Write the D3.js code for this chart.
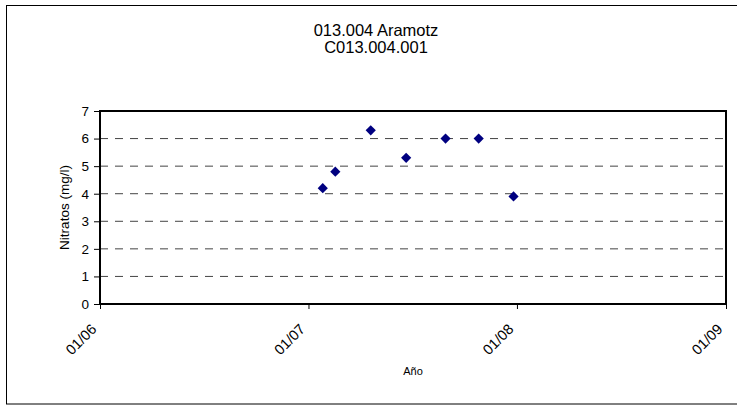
<!DOCTYPE html>
<html>
<head>
<meta charset="utf-8">
<script src="https://cdn.jsdelivr.net/npm/d3@7"></script>
<style>
  body { margin: 0; background: #fff; }
  svg { display: block; font-family: "Liberation Sans", Arial, sans-serif; }
</style>
</head>
<body>
<svg id="chart" width="737" height="406"></svg>
<script>
const titleLines = ["013.004 Aramotz", "C013.004.001"];
const sampleDates = ["2007-01-26", "2007-02-17", "2007-04-20", "2007-06-21", "2007-08-29", "2007-10-26", "2007-12-26"];
const nitrateValues = [4.2, 4.8, 6.3, 5.3, 6.0, 6.0, 3.9];
const yTicks = [0, 1, 2, 3, 4, 5, 6, 7];
const xTickDates = ["2006-01-01", "2007-01-01", "2008-01-01", "2009-01-01"];

const parse = d3.timeParse("%Y-%m-%d");
const data = sampleDates.map((d, i) => ({ date: parse(d), value: nitrateValues[i] }));

const svg = d3.select("#chart");
const margin = { top: 111, right: 11, bottom: 102, left: 100 };
const width = 737 - margin.left - margin.right;
const height = 406 - margin.top - margin.bottom;

// outer chart frame (runs past the right edge like the original)
svg.append("rect")
  .attr("x", 6.5).attr("y", 5.5)
  .attr("width", 760).attr("height", 398.5)
  .attr("fill", "#fff").attr("stroke", "#000").attr("stroke-width", 1);

svg.selectAll(".title")
  .data(titleLines)
  .join("text")
  .attr("class", "title")
  .attr("x", 376)
  .attr("y", (d, i) => 36 + i * 17)
  .attr("text-anchor", "middle")
  .style("font-size", "16.5px")
  .text(d => d);

const chartArea = svg.append("g")
  .attr("transform", `translate(${margin.left},${margin.top})`);

const x = d3.scaleTime()
  .domain([parse(xTickDates[0]), parse(xTickDates[xTickDates.length - 1])])
  .range([0, width]);
const y = d3.scaleLinear().domain([0, 7]).range([height, 0]);

// dashed gridlines
chartArea.selectAll(".grid")
  .data(yTicks.filter(t => t > 0 && t < 7))
  .join("line")
  .attr("class", "grid")
  .attr("x1", 0).attr("x2", width)
  .attr("y1", d => y(d)).attr("y2", d => y(d))
  .attr("stroke", "#444")
  .attr("stroke-width", 1)
  .attr("stroke-dasharray", "8,7");

const yAxis = chartArea.append("g")
  .call(d3.axisLeft(y).tickValues(yTicks).tickSize(6).tickPadding(5).tickFormat(d3.format("d")));
yAxis.select(".domain").remove();
yAxis.selectAll("line").attr("stroke", "#000");
yAxis.selectAll("text")
  .attr("fill", "#000")
  .style("font-size", "13.5px")
  .style("font-family", "Liberation Sans, Arial, sans-serif");

const xAxis = chartArea.append("g")
  .attr("transform", `translate(0,${height})`)
  .call(d3.axisBottom(x).tickValues(xTickDates.map(parse)).tickSize(5).tickFormat(d3.timeFormat("%m/%y")));
xAxis.select(".domain").remove();
xAxis.selectAll("line").attr("stroke", "#000");
xAxis.selectAll("text")
  .attr("fill", "#000")
  .attr("y", 0).attr("dy", 0)
  .attr("transform", "translate(-3,26) rotate(-45)")
  .style("text-anchor", "end")
  .style("font-size", "14.5px")
  .style("font-family", "Liberation Sans, Arial, sans-serif");

// plot border
chartArea.append("rect")
  .attr("width", width).attr("height", height)
  .attr("fill", "none").attr("stroke", "#000").attr("stroke-width", 2);

chartArea.append("text")
  .attr("transform", `translate(${-31},${height / 2}) rotate(-90)`)
  .attr("text-anchor", "middle")
  .style("font-size", "13.5px")
  .text("Nitratos (mg/l)");

chartArea.append("text")
  .attr("x", width / 2)
  .attr("y", height + 71)
  .attr("text-anchor", "middle")
  .style("font-size", "11px")
  .text("Año");

const diamond = d3.symbol().type(d3.symbolSquare).size(52);
chartArea.selectAll(".pt")
  .data(data)
  .join("path")
  .attr("class", "pt")
  .attr("d", diamond)
  .attr("transform", d => `translate(${x(d.date)},${y(d.value)}) rotate(45)`)
  .attr("fill", "#000080");
</script>
</body>
</html>
